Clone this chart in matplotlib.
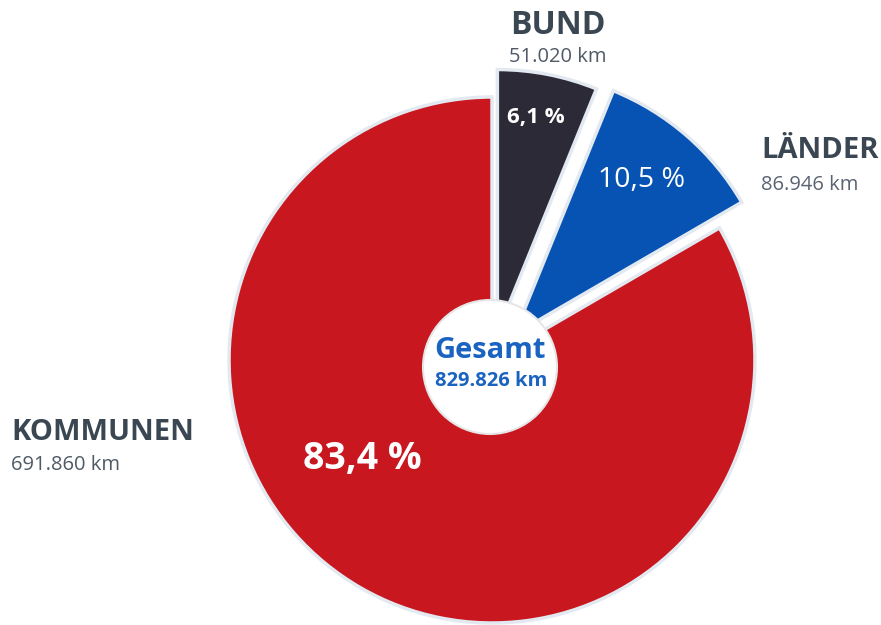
import matplotlib
matplotlib.use('Agg')
import matplotlib.pyplot as plt
from matplotlib.patches import Circle

# Werte aus der Grafik
names = ['BUND', 'LÄNDER', 'KOMMUNEN']
km = [51020, 86946, 691860]
km_labels = ['51.020 km', '86.946 km', '691.860 km']
pct_labels = ['6,1 %', '10,5 %', '83,4 %']
total_label = '829.826 km'
colors = ['#2b2a36', '#0653b4', '#c8171e']

plt.rcParams['font.family'] = ['Open Sans', 'DejaVu Sans']

W, H = 881, 625
fig = plt.figure(figsize=(W / 100, H / 100), dpi=100)
ax = fig.add_axes([0, 0, 1, 1])
ax.set_aspect('equal')
ax.axis('off')

cx, cy, r = 492, H - 360, 263
wedges, _ = ax.pie(km, startangle=90, counterclock=False, radius=r,
                   center=(cx, cy), explode=[28, 34, 0], colors=colors,
                   wedgeprops=dict(edgecolor='#e3e9f0', linewidth=2.5))
ax.set_xlim(0, W)
ax.set_ylim(0, H)

# Mittelkreis
ax.add_patch(Circle((490, H - 367), 67, facecolor='white', edgecolor='#e6e6e6',
                    linewidth=1.5, zorder=5))
ax.text(490, H - 351, 'Gesamt', ha='center', va='center', fontsize=21,
        fontweight='bold', color='#1a63c0', zorder=6)
ax.text(491, H - 381, total_label, ha='center', va='center', fontsize=14.5,
        fontweight='bold', color='#1a63c0', zorder=6)

# Prozentwerte
ax.text(536, H - 117, pct_labels[0], ha='center', va='center', fontsize=16,
        fontweight='bold', color='white')
ax.text(642, H - 180, pct_labels[1], ha='center', va='center', fontsize=20.5,
        color='white')
ax.text(362, H - 459, pct_labels[2], ha='center', va='center', fontsize=27,
        fontweight='bold', color='white')

# Beschriftungen
dark = '#3a4753'
grey = '#4f5a67'
ax.text(558, H - 25, names[0], ha='center', va='center', fontsize=23,
        fontweight='bold', color=dark)
ax.text(558, H - 57, km_labels[0], ha='center', va='center', fontsize=14.5,
        color=grey)
ax.text(761, H - 150, names[1], ha='left', va='center', fontsize=21,
        fontweight='bold', color=dark)
ax.text(761, H - 185, km_labels[1], ha='left', va='center', fontsize=14.5,
        color='#5a6472')
ax.text(11, H - 433, names[2], ha='left', va='center', fontsize=21,
        fontweight='bold', color=dark)
ax.text(11, H - 465, km_labels[2], ha='left', va='center', fontsize=14.5,
        color=grey)

fig.savefig('out.png', dpi=100)
